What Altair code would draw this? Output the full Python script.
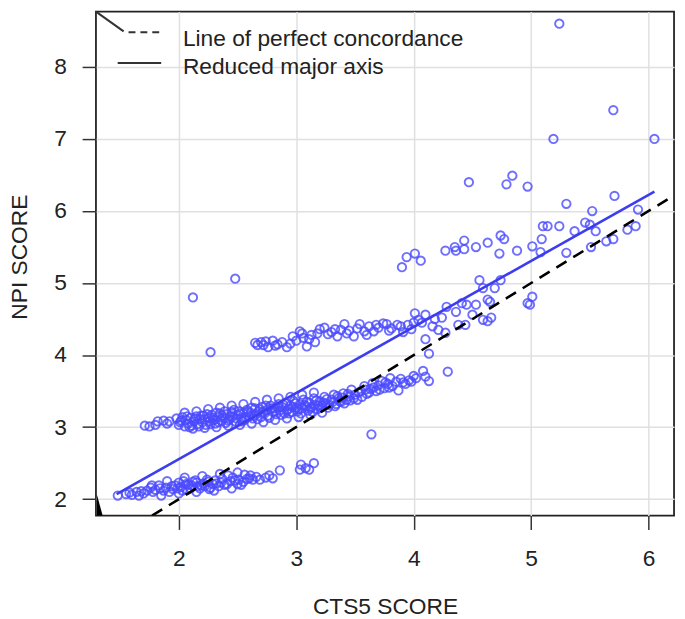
import altair as alt
import pandas as pd

# ---- data (CTS5 score, NPI score) ----
LOWER_BAND = [
    (1.48, 2.05), (1.55, 2.07), (1.58, 2.09), (1.60, 2.06), (1.64, 2.10), (1.66, 2.05),
    (1.68, 2.11), (1.70, 2.08), (1.73, 2.12), (1.76, 2.16), (1.77, 2.19), (1.78, 2.10),
    (1.80, 2.13), (1.83, 2.19), (1.84, 2.15), (1.85, 2.05), (1.87, 2.12), (1.89, 2.16),
    (1.90, 2.25), (1.92, 2.10), (1.94, 2.18), (1.95, 2.14), (1.97, 2.19), (1.99, 2.15),
    (2.00, 2.23), (2.00, 2.08), (2.02, 2.17), (2.03, 2.12), (2.04, 2.25), (2.05, 2.30),
    (2.06, 2.21), (2.07, 2.13), (2.08, 2.20), (2.10, 2.15), (2.11, 2.19), (2.12, 2.24),
    (2.14, 2.26), (2.15, 2.23), (2.15, 2.10), (2.16, 2.18), (2.18, 2.15), (2.19, 2.19),
    (2.20, 2.32), (2.21, 2.22), (2.22, 2.18), (2.24, 2.27), (2.25, 2.24), (2.26, 2.14),
    (2.27, 2.16), (2.29, 2.21), (2.30, 2.12), (2.31, 2.26), (2.32, 2.22), (2.34, 2.18),
    (2.35, 2.35), (2.36, 2.23), (2.37, 2.28), (2.39, 2.20), (2.41, 2.21), (2.42, 2.33),
    (2.44, 2.25), (2.45, 2.15), (2.46, 2.30), (2.48, 2.26), (2.50, 2.21), (2.50, 2.37),
    (2.51, 2.27), (2.53, 2.20), (2.55, 2.24), (2.56, 2.34), (2.58, 2.28), (2.60, 2.29),
    (2.61, 2.33), (2.63, 2.27), (2.66, 2.31), (2.69, 2.27), (2.74, 2.30), (2.77, 2.33),
    (2.80, 2.29), (2.86, 2.40), (3.03, 2.41), (3.04, 2.48), (3.08, 2.43), (3.11, 2.41),
    (3.15, 2.50),
]

MAIN_BAND = [
    (1.71, 3.02), (1.75, 3.01), (1.80, 3.03), (1.82, 3.08), (1.87, 3.09), (1.90, 3.05),
    (1.92, 3.08), (1.98, 3.12), (2.00, 3.03), (2.01, 3.07), (2.02, 3.09), (2.03, 3.14),
    (2.05, 3.01), (2.05, 3.20), (2.06, 3.10), (2.07, 3.15), (2.08, 3.05), (2.09, 3.00),
    (2.10, 3.13), (2.11, 3.02), (2.12, 2.98), (2.13, 3.08), (2.14, 3.12), (2.15, 3.15),
    (2.15, 3.22), (2.16, 3.04), (2.17, 3.01), (2.18, 3.11), (2.19, 3.16), (2.20, 3.07),
    (2.21, 3.16), (2.22, 3.11), (2.22, 2.99), (2.23, 3.03), (2.24, 3.18), (2.25, 3.12),
    (2.25, 3.25), (2.26, 3.08), (2.27, 3.04), (2.28, 3.17), (2.29, 3.13), (2.30, 3.10),
    (2.31, 3.05), (2.32, 3.20), (2.32, 3.00), (2.33, 3.14), (2.34, 3.07), (2.35, 3.19),
    (2.35, 3.27), (2.36, 3.09), (2.37, 3.16), (2.38, 3.13), (2.39, 3.22), (2.40, 3.06),
    (2.41, 3.18), (2.42, 3.09), (2.42, 3.02), (2.43, 3.11), (2.44, 3.15), (2.45, 3.21),
    (2.45, 3.30), (2.46, 3.15), (2.47, 3.24), (2.48, 3.08), (2.49, 3.12), (2.50, 3.17),
    (2.51, 3.22), (2.52, 3.19), (2.52, 3.03), (2.53, 3.12), (2.54, 3.08), (2.55, 3.19),
    (2.55, 3.32), (2.56, 3.10), (2.57, 3.14), (2.58, 3.24), (2.59, 3.21), (2.60, 3.15),
    (2.61, 3.20), (2.62, 3.27), (2.62, 3.05), (2.63, 3.12), (2.64, 3.16), (2.65, 3.26),
    (2.65, 3.35), (2.66, 3.18), (2.67, 3.11), (2.68, 3.22), (2.69, 3.25), (2.70, 3.14),
    (2.71, 3.28), (2.72, 3.21), (2.72, 3.07), (2.73, 3.19), (2.74, 3.30), (2.75, 3.24),
    (2.75, 3.38), (2.76, 3.16), (2.77, 3.13), (2.78, 3.30), (2.79, 3.26), (2.80, 3.21),
    (2.81, 3.26), (2.82, 3.22), (2.82, 3.10), (2.83, 3.18), (2.84, 3.28), (2.85, 3.32),
    (2.85, 3.40), (2.86, 3.23), (2.87, 3.17), (2.88, 3.28), (2.89, 3.31), (2.90, 3.19),
    (2.91, 3.34), (2.92, 3.23), (2.92, 3.12), (2.93, 3.25), (2.94, 3.19), (2.95, 3.30),
    (2.95, 3.42), (2.96, 3.21), (2.97, 3.28), (2.98, 3.36), (2.99, 3.33), (3.00, 3.27),
    (3.01, 3.22), (3.02, 3.25), (3.02, 3.14), (3.03, 3.32), (3.04, 3.19), (3.05, 3.26),
    (3.05, 3.45), (3.06, 3.38), (3.07, 3.31), (3.08, 3.29), (3.09, 3.35), (3.10, 3.23),
    (3.11, 3.34), (3.12, 3.26), (3.12, 3.17), (3.13, 3.28), (3.14, 3.21), (3.15, 3.40),
    (3.15, 3.48), (3.16, 3.31), (3.17, 3.37), (3.18, 3.25), (3.19, 3.30), (3.20, 3.36),
    (3.21, 3.27), (3.22, 3.30), (3.22, 3.20), (3.23, 3.34), (3.24, 3.42), (3.25, 3.33),
    (3.26, 3.39), (3.27, 3.27), (3.28, 3.31), (3.30, 3.38), (3.31, 3.35), (3.32, 3.45),
    (3.33, 3.29), (3.34, 3.32), (3.35, 3.43), (3.36, 3.40), (3.37, 3.36), (3.38, 3.35),
    (3.39, 3.41), (3.40, 3.47), (3.41, 3.33), (3.43, 3.38), (3.44, 3.46), (3.45, 3.43),
    (3.46, 3.37), (3.47, 3.52), (3.49, 3.40), (3.50, 3.45), (3.52, 3.38), (3.53, 3.48),
    (3.55, 3.50), (3.56, 3.42), (3.58, 3.57), (3.59, 3.52), (3.60, 3.46), (3.62, 3.48),
    (3.63, 3.53), (3.65, 3.61), (3.66, 3.55), (3.68, 3.50), (3.70, 3.58), (3.71, 3.52),
    (3.73, 3.64), (3.75, 3.54), (3.76, 3.62), (3.78, 3.60), (3.79, 3.55), (3.80, 3.68),
    (3.82, 3.57), (3.85, 3.63), (3.87, 3.51), (3.89, 3.67), (3.91, 3.62), (3.93, 3.60),
    (3.96, 3.65), (3.98, 3.63), (4.00, 3.71), (4.02, 3.68), (4.08, 3.78), (4.10, 3.70),
    (4.13, 3.64), (4.29, 3.77),
]

UPPER_BAND = [
    (2.65, 4.17), (2.67, 4.14), (2.70, 4.18), (2.72, 4.14), (2.74, 4.19), (2.76, 4.11),
    (2.80, 4.20), (2.82, 4.13), (2.84, 4.15), (2.88, 4.18), (2.92, 4.11), (2.95, 4.16),
    (2.97, 4.26), (3.00, 4.20), (3.03, 4.33), (3.05, 4.30), (3.06, 4.24), (3.09, 4.12),
    (3.11, 4.22), (3.13, 4.28), (3.16, 4.18), (3.18, 4.30), (3.20, 4.36), (3.24, 4.38),
    (3.27, 4.29), (3.30, 4.32), (3.33, 4.36), (3.35, 4.26), (3.38, 4.35), (3.41, 4.43),
    (3.43, 4.30), (3.45, 4.34), (3.49, 4.26), (3.52, 4.37), (3.54, 4.43), (3.58, 4.33),
    (3.60, 4.28), (3.62, 4.40), (3.66, 4.33), (3.68, 4.42), (3.70, 4.38), (3.74, 4.44),
    (3.77, 4.43), (3.79, 4.34), (3.81, 4.37), (3.86, 4.42), (3.89, 4.40), (3.91, 4.32),
    (3.95, 4.42), (3.98, 4.36), (4.00, 4.45), (4.04, 4.49), (4.07, 4.45), (4.10, 4.22),
    (4.13, 4.02), (4.16, 4.40), (4.21, 4.35), (4.27, 4.31),
]

RISING_BAND = [
    (4.01, 4.58), (4.10, 4.56), (4.18, 4.50), (4.24, 4.52), (4.28, 4.67), (4.36, 4.60),
    (4.38, 4.42), (4.41, 4.72), (4.44, 4.42), (4.45, 4.70), (4.50, 4.56), (4.53, 4.70),
    (4.59, 4.49), (4.63, 4.47), (4.66, 4.52), (4.65, 4.74), (4.63, 4.77), (4.69, 4.93),
    (4.59, 4.93), (4.56, 5.04), (4.74, 5.04), (4.97, 4.72), (4.99, 4.70), (5.01, 4.81),
]

RIGHT_CLUSTER = [
    (3.90, 5.22), (3.94, 5.36), (4.01, 5.41), (4.06, 5.31), (4.27, 5.45), (4.35, 5.50),
    (4.36, 5.45), (4.43, 5.59), (4.43, 5.47), (4.53, 5.50), (4.63, 5.56), (4.73, 5.41),
    (4.74, 5.66), (4.77, 5.61), (4.88, 5.45), (5.01, 5.51), (5.08, 5.43), (5.09, 5.61),
    (5.10, 5.79), (5.14, 5.79), (5.24, 5.79), (5.30, 5.42), (5.37, 5.72), (5.46, 5.84),
    (5.50, 5.81), (5.55, 5.72), (5.51, 5.50), (5.64, 5.58), (5.70, 5.61), (5.82, 5.74),
    (5.89, 5.79), (5.91, 6.02), (5.52, 6.00), (5.30, 6.10), (5.71, 6.21),
]

OUTLIERS = [
    (5.24, 8.60), (5.70, 7.40), (5.19, 7.00), (6.05, 7.00), (4.47, 6.40), (4.79, 6.37),
    (4.84, 6.49), (4.97, 6.34), (2.12, 4.80), (2.48, 5.06), (2.27, 4.04), (3.64, 2.90),
]

# line of perfect concordance (y = x) across the visible range
CONCORDANCE_X = [1.772, 6.217]
# reduced major axis, end points
RMA_X = [1.47, 6.05]
RMA_Y = [2.07, 6.27]

X_DOMAIN = [1.294, 6.217]
Y_DOMAIN = [1.772, 8.768]
X_TICKS = [2, 3, 4, 5, 6]
Y_TICKS = [2, 3, 4, 5, 6, 7, 8]

LEGEND_LABELS = ["Line of perfect concordance", "Reduced major axis"]

FONT = "Liberation Sans"
FS = 23

points = pd.DataFrame(
    LOWER_BAND + MAIN_BAND + UPPER_BAND + RISING_BAND + RIGHT_CLUSTER + OUTLIERS,
    columns=["x", "y"],
)
conc = pd.DataFrame({"x": CONCORDANCE_X, "y": CONCORDANCE_X})
rma = pd.DataFrame({"x": RMA_X, "y": RMA_Y})

x_enc = alt.X(
    "x:Q",
    scale=alt.Scale(domain=X_DOMAIN, nice=False, zero=False),
    axis=alt.Axis(
        values=X_TICKS, format="d", title="CTS5 SCORE",
        titleY=99, titleBaseline="alphabetic",
        labelPadding=19,
    ),
)
y_enc = alt.Y(
    "y:Q",
    scale=alt.Scale(domain=Y_DOMAIN, nice=False, zero=False),
    axis=alt.Axis(
        values=Y_TICKS, format="d", title="NPI SCORE",
        titleX=-70, titleY=248, titleAngle=270, titleBaseline="alphabetic",
        titleAlign="center", labelPadding=16,
    ),
)

pts = alt.Chart(points).mark_point(
    shape="circle", filled=False, size=72, strokeWidth=1.9,
    color="#4a4aff", opacity=0.8,
).encode(x=x_enc, y=y_enc)

conc_line = alt.Chart(conc).mark_line(
    color="black", strokeWidth=2.6, strokeDash=[12, 8], clip=True,
).encode(x=x_enc, y=y_enc)

rma_line = alt.Chart(rma).mark_line(
    color="#3c3cf0", strokeWidth=2.6, clip=True,
).encode(x=x_enc, y=y_enc)

one = alt.Data(values=[{}])

leg_diag = alt.Chart(one).mark_rule(color="#333333", strokeWidth=2).encode(
    x=alt.value(0), y=alt.value(0), x2=alt.value(28), y2=alt.value(20)
)
leg_dash = alt.Chart(one).mark_rule(color="#333333", strokeWidth=2, strokeDash=[7, 5]).encode(
    x=alt.value(33), x2=alt.value(65), y=alt.value(21)
)
leg_solid = alt.Chart(one).mark_rule(color="#333333", strokeWidth=2).encode(
    x=alt.value(22), x2=alt.value(66), y=alt.value(52)
)
leg_t1 = alt.Chart(one).mark_text(
    text=LEGEND_LABELS[0], align="left", baseline="alphabetic",
    font=FONT, fontSize=FS, color="#222222",
).encode(x=alt.value(88), y=alt.value(35))
leg_t2 = alt.Chart(one).mark_text(
    text=LEGEND_LABELS[1], align="left", baseline="alphabetic",
    font=FONT, fontSize=FS, color="#222222",
).encode(x=alt.value(88), y=alt.value(63))

corner = alt.Chart(one).mark_point(
    shape="M0,-1L0,1L0.55,1Z", filled=True, color="black", opacity=1, size=441,
).encode(x=alt.value(1), y=alt.value(499.5))

chart = alt.layer(
    pts, conc_line, rma_line, leg_diag, leg_dash, leg_solid, leg_t1, leg_t2, corner
).properties(
    width=585, height=510,
    padding={"left": 89, "top": 0, "right": 3, "bottom": 101},
    autosize="none",
).configure_view(
    stroke="#222222", strokeWidth=1.8,
).configure_axis(
    labelFont=FONT, titleFont=FONT, labelFontSize=FS, titleFontSize=FS,
    titleFontWeight="normal", labelColor="#222222", titleColor="#222222",
    domain=False, tickSize=14, tickWidth=1.5, tickColor="#333333",
    grid=True, gridColor="#e0e0e0", gridWidth=1.5,
)

chart.save("out.html", embed_options={"renderer": "svg", "actions": False})
